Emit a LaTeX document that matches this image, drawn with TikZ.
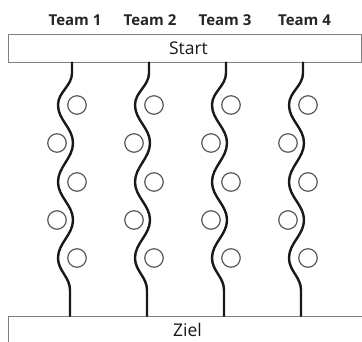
\documentclass[tikz,border=0pt]{standalone}
\usepackage{fontspec}
\setmainfont{Open Sans}
\begin{document}
\begin{tikzpicture}[x=1pt,y=-1pt,
  bar/.style={draw=black!50, line width=0.9pt},
  wave/.style={draw=black!90, line width=2.4pt, line cap=round, line join=round},
  stone/.style={draw=black!65, line width=1.2pt, circle, minimum size=18.5pt, inner sep=0pt},
  team/.style={font=\bfseries\fontsize{15}{17}\selectfont, text=black!85},
  lane/.style={font=\fontsize{17.5}{20}\selectfont, text=black!90}]
\useasboundingbox (0,0) rectangle (362,342);

% start bar and finish bar
\draw[bar] (8,34.5) rectangle (361.5,62.5);
\node[lane] (start) at (188.5,48.5) {Start};
\draw[bar] (8,342) |- (362,316);
\node[lane] (ziel) at (187.5,330) {Ziel};

% one lane per team: label, wavy track and five stones
\foreach \i/\c/\l in {1/72/75,2/149/150,3/226/225,4/303/304.5}{
  \node[team] (team\i) at (\l,20) {Team \i};
  \coordinate (top\i) at (\c,62.5);
  \coordinate (bot\i) at (\c-2,316);
  \draw[wave] (top\i) -- (\c,73)
    .. controls +(0,13) and +(0,-13) .. (\c-14,105)
    .. controls +(0,15) and +(0,-15) .. (\c+1,143)
    .. controls +(0,15) and +(0,-15) .. (\c-14,182)
    .. controls +(0,15) and +(0,-15) .. (\c+1,220)
    .. controls +(0,15) and +(0,-15) .. (\c-14,258)
    .. controls +(0,13) and +(0,-13) .. (\c-2,290)
    -- (bot\i);
  \node[stone] (s\i-1) at (\c+5,105) {};
  \node[stone] (s\i-2) at (\c-15,143) {};
  \node[stone] (s\i-3) at (\c+5,182) {};
  \node[stone] (s\i-4) at (\c-15,220) {};
  \node[stone] (s\i-5) at (\c+5,258) {};
}
\end{tikzpicture}
\end{document}
